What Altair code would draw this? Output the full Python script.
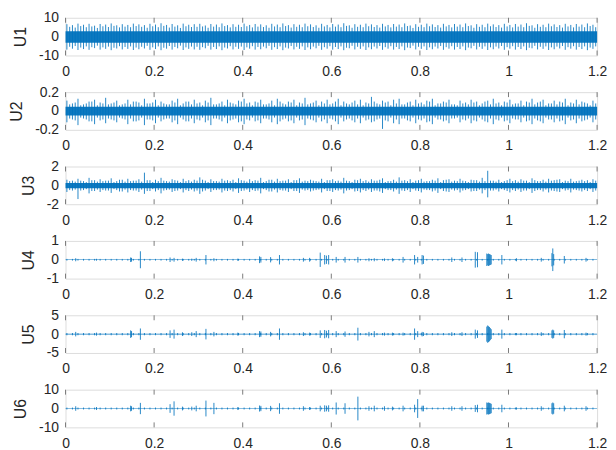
import altair as alt
import pandas as pd

BLUE = "#0072BD"
BOX = "#7a7a7a"
TXT = "#262626"
FONT = "Liberation Sans"

NAMES = ["U1", "U2", "U3", "U4", "U5", "U6"]
Y_DOMAINS = [[-10, 10], [-0.2, 0.2], [-2, 2], [-1, 1], [-5, 5], [-10, 10]]
X_TICKS = [0, 0.2, 0.4, 0.6, 0.8, 1.0, 1.2]

# dense core band (lo, hi) of each signal
CORE = [[-3.2, 2.8], [-0.047, 0.045], [-0.3, 0.25], [-0.012, 0.012], [-0.07, 0.07], [-0.15, 0.15]]

# main peaks of the oscillating signals U1-U3, one pair per cycle (96 cycles over 1.2 s)
U1_HI = [6.6, 6.1, 6.9, 6.3, 6.8, 5.8, 6.7, 6.4, 7.0, 6.0, 6.6, 6.2, 6.9, 6.5, 6.1, 6.8,
         6.4, 7.1, 6.2, 6.7, 6.0, 6.9, 6.3, 6.6, 6.8, 5.9, 6.7, 6.4, 7.0, 6.1, 6.6, 6.3,
         6.9, 6.2, 6.7, 6.5, 6.0, 6.8, 6.4, 7.0, 6.1, 6.6, 6.3, 6.9, 6.5, 6.0, 6.8, 6.2,
         6.7, 6.4, 7.1, 6.0, 6.6, 6.3, 6.9, 6.5, 6.1, 6.8, 6.2, 6.7, 6.4, 7.0, 5.9, 6.6,
         6.3, 6.9, 6.5, 6.1, 6.8, 6.2, 6.7, 6.4, 7.0, 6.0, 6.6, 6.3, 6.9, 6.5, 6.1, 6.8,
         6.2, 6.7, 6.4, 7.1, 6.0, 6.6, 6.3, 6.9, 6.5, 6.1, 6.8, 6.2, 6.7, 6.4, 7.0, 6.3]
U1_LO = [-6.9, -6.4, -7.1, -6.6, -7.0, -6.1, -6.9, -6.5, -7.2, -6.3, -6.8, -6.5, -7.1, -6.7, -6.3, -7.0,
         -6.6, -7.2, -6.4, -6.9, -6.2, -7.1, -6.5, -6.8, -7.0, -6.2, -6.9, -6.6, -7.2, -6.3, -6.8, -6.5,
         -7.1, -6.4, -6.9, -6.7, -6.2, -7.0, -6.6, -7.2, -6.3, -6.8, -6.5, -7.1, -6.7, -6.2, -7.0, -6.4,
         -6.9, -6.6, -7.2, -6.2, -6.8, -6.5, -7.1, -6.7, -6.3, -7.0, -6.4, -6.9, -6.6, -7.2, -6.1, -6.8,
         -6.5, -7.1, -6.7, -6.3, -7.0, -6.4, -6.9, -6.6, -7.2, -6.2, -6.8, -6.5, -7.1, -6.7, -6.3, -7.0,
         -6.4, -6.9, -6.6, -7.2, -6.2, -6.8, -6.5, -7.1, -6.7, -6.3, -7.0, -6.4, -6.9, -6.6, -7.2, -6.5]
# secondary peaks, half a cycle later
U1_HI2 = [5.2, 4.8, 5.6, 5.0, 5.4, 4.6, 5.5, 5.1, 5.7, 4.9, 5.3, 5.0, 5.6, 5.2, 4.7, 5.5,
          5.0, 5.7, 4.8, 5.3, 4.6, 5.5, 5.1, 5.2, 5.4, 4.7, 5.3, 5.0, 5.6, 4.9, 5.2, 5.1,
          5.5, 4.9, 5.3, 5.1, 4.7, 5.4, 5.0, 5.6, 4.8, 5.2, 5.0, 5.5, 5.1, 4.7, 5.4, 4.9,
          5.3, 5.0, 5.7, 4.7, 5.2, 5.0, 5.5, 5.1, 4.8, 5.4, 4.9, 5.3, 5.0, 5.6, 4.6, 5.2,
          5.0, 5.5, 5.1, 4.8, 5.4, 4.9, 5.3, 5.0, 5.6, 4.7, 5.2, 5.0, 5.5, 5.1, 4.8, 5.4,
          4.9, 5.3, 5.0, 5.7, 4.7, 5.2, 5.0, 5.5, 5.1, 4.8, 5.4, 4.9, 5.3, 5.0, 5.6, 5.0]
U1_LO2 = [-5.4, -5.0, -5.8, -5.2, -5.6, -4.8, -5.7, -5.3, -5.9, -5.1, -5.5, -5.2, -5.8, -5.4, -4.9, -5.7,
          -5.2, -5.9, -5.0, -5.5, -4.8, -5.7, -5.3, -5.4, -5.6, -4.9, -5.5, -5.2, -5.8, -5.1, -5.4, -5.3,
          -5.7, -5.1, -5.5, -5.3, -4.9, -5.6, -5.2, -5.8, -5.0, -5.4, -5.2, -5.7, -5.3, -4.9, -5.6, -5.1,
          -5.5, -5.2, -5.9, -4.9, -5.4, -5.2, -5.7, -5.3, -5.0, -5.6, -5.1, -5.5, -5.2, -5.8, -4.8, -5.4,
          -5.2, -5.7, -5.3, -5.0, -5.6, -5.1, -5.5, -5.2, -5.8, -4.9, -5.4, -5.2, -5.7, -5.3, -5.0, -5.6,
          -5.1, -5.5, -5.2, -5.9, -4.9, -5.4, -5.2, -5.7, -5.3, -5.0, -5.6, -5.1, -5.5, -5.2, -5.8, -5.2]
U2_HI = [0.11, 0.08, 0.13, 0.07, 0.10, 0.12, 0.09, 0.14, 0.08, 0.11, 0.07, 0.12, 0.10, 0.09, 0.13, 0.08,
         0.12, 0.10, 0.07, 0.11, 0.13, 0.08, 0.10, 0.12, 0.09, 0.11, 0.14, 0.07, 0.10, 0.12, 0.08, 0.11,
         0.13, 0.09, 0.10, 0.12, 0.07, 0.11, 0.13, 0.08, 0.10, 0.12, 0.09, 0.14, 0.08, 0.11, 0.10, 0.12,
         0.08, 0.13, 0.10, 0.07, 0.11, 0.12, 0.09, 0.15, 0.08, 0.11, 0.10, 0.12, 0.13, 0.07, 0.10, 0.12,
         0.09, 0.11, 0.13, 0.08, 0.10, 0.12, 0.07, 0.11, 0.09, 0.12, 0.10, 0.08, 0.11, 0.13, 0.09, 0.10,
         0.12, 0.08, 0.11, 0.10, 0.13, 0.09, 0.12, 0.08, 0.11, 0.10, 0.13, 0.09, 0.12, 0.10, 0.08, 0.11]
U2_LO = [-0.12, -0.09, -0.15, -0.08, -0.11, -0.14, -0.10, -0.13, -0.09, -0.12, -0.08, -0.14, -0.11, -0.10, -0.15, -0.09,
         -0.13, -0.11, -0.08, -0.12, -0.14, -0.09, -0.11, -0.13, -0.10, -0.12, -0.15, -0.08, -0.11, -0.13, -0.09, -0.12,
         -0.14, -0.10, -0.11, -0.13, -0.08, -0.12, -0.14, -0.09, -0.11, -0.13, -0.10, -0.15, -0.09, -0.12, -0.11, -0.13,
         -0.09, -0.14, -0.11, -0.08, -0.12, -0.13, -0.10, -0.12, -0.09, -0.19, -0.11, -0.13, -0.14, -0.08, -0.11, -0.13,
         -0.10, -0.12, -0.14, -0.09, -0.11, -0.13, -0.08, -0.12, -0.10, -0.13, -0.11, -0.09, -0.12, -0.14, -0.10, -0.11,
         -0.13, -0.09, -0.12, -0.11, -0.14, -0.10, -0.13, -0.09, -0.12, -0.11, -0.14, -0.10, -0.13, -0.11, -0.09, -0.12]
U2_HI2 = [0.07, 0.09, 0.06, 0.08, 0.10, 0.06, 0.08, 0.07, 0.09, 0.06, 0.08, 0.07, 0.10, 0.06, 0.08, 0.09,
          0.06, 0.08, 0.07, 0.09, 0.06, 0.10, 0.07, 0.08, 0.06, 0.09, 0.07, 0.08, 0.06, 0.09, 0.07, 0.10,
          0.08, 0.06, 0.09, 0.07, 0.08, 0.06, 0.10, 0.07, 0.09, 0.06, 0.08, 0.07, 0.09, 0.06, 0.08, 0.07,
          0.10, 0.06, 0.08, 0.09, 0.07, 0.06, 0.08, 0.10, 0.07, 0.09, 0.06, 0.08, 0.07, 0.09, 0.06, 0.08,
          0.07, 0.10, 0.06, 0.08, 0.09, 0.07, 0.06, 0.08, 0.07, 0.09, 0.06, 0.10, 0.07, 0.08, 0.06, 0.09,
          0.07, 0.08, 0.06, 0.09, 0.07, 0.10, 0.06, 0.08, 0.07, 0.09, 0.06, 0.08, 0.07, 0.09, 0.06, 0.08]
U2_LO2 = [-0.08, -0.10, -0.07, -0.09, -0.11, -0.07, -0.09, -0.08, -0.10, -0.07, -0.09, -0.08, -0.11, -0.07, -0.09, -0.10,
          -0.07, -0.09, -0.08, -0.10, -0.07, -0.11, -0.08, -0.09, -0.07, -0.10, -0.08, -0.09, -0.07, -0.10, -0.08, -0.11,
          -0.09, -0.07, -0.10, -0.08, -0.09, -0.07, -0.11, -0.08, -0.10, -0.07, -0.09, -0.08, -0.10, -0.07, -0.09, -0.08,
          -0.11, -0.07, -0.09, -0.10, -0.08, -0.07, -0.09, -0.11, -0.08, -0.10, -0.07, -0.09, -0.08, -0.10, -0.07, -0.09,
          -0.08, -0.11, -0.07, -0.09, -0.10, -0.08, -0.07, -0.09, -0.08, -0.10, -0.07, -0.11, -0.08, -0.09, -0.07, -0.10,
          -0.08, -0.09, -0.07, -0.10, -0.08, -0.11, -0.07, -0.09, -0.08, -0.10, -0.07, -0.09, -0.08, -0.10, -0.07, -0.09]
U3_HI = [0.6, 0.5, 0.7, 0.45, 0.8, 0.55, 0.65, 0.5, 0.75, 0.45, 0.6, 0.7, 0.5, 0.65, 1.35, 0.55,
         0.6, 0.8, 0.45, 0.65, 0.5, 0.7, 0.55, 0.6, 0.85, 0.5, 0.65, 0.45, 0.7, 0.55, 0.6, 0.75,
         0.5, 0.65, 0.55, 0.8, 0.45, 0.6, 0.7, 0.5, 0.65, 0.55, 0.75, 0.5, 0.6, 0.45, 0.7, 0.55,
         0.65, 0.5, 0.8, 0.45, 0.6, 0.7, 0.55, 0.65, 0.5, 0.75, 0.45, 0.6, 0.85, 0.55, 0.65, 0.5,
         0.7, 0.45, 0.6, 0.75, 0.55, 0.65, 0.5, 0.7, 0.45, 0.6, 0.55, 0.8, 1.55, 0.5, 0.6, 0.45,
         0.7, 0.55, 0.65, 0.5, 0.75, 0.45, 0.6, 0.7, 0.55, 0.65, 0.5, 0.7, 0.45, 0.6, 0.55, 0.65]
U3_LO = [-0.7, -0.55, -1.45, -0.5, -0.85, -0.6, -0.7, -0.55, -0.8, -0.5, -0.65, -0.75, -0.55, -0.7, -0.9, -0.6,
         -0.65, -0.85, -0.5, -0.7, -0.55, -0.75, -0.6, -0.65, -0.9, -0.55, -0.7, -0.5, -0.75, -0.6, -0.65, -0.8,
         -0.55, -0.7, -0.6, -0.85, -0.5, -0.65, -0.75, -0.55, -0.7, -0.6, -0.8, -0.55, -0.65, -0.5, -0.75, -0.6,
         -0.7, -0.55, -0.85, -0.5, -0.65, -0.75, -0.6, -0.7, -0.55, -0.8, -0.5, -0.65, -0.9, -0.6, -0.7, -0.55,
         -0.75, -0.5, -0.65, -0.8, -0.6, -0.7, -0.55, -0.75, -0.5, -0.65, -0.6, -0.85, -1.27, -0.55, -0.65, -0.5,
         -0.75, -0.6, -0.7, -0.55, -0.8, -0.5, -0.65, -0.75, -0.6, -0.7, -0.55, -0.75, -0.5, -0.65, -0.6, -0.7]
U3_HI2 = [0.45, 0.4, 0.5, 0.35, 0.55, 0.4, 0.45, 0.5, 0.35, 0.6, 0.4, 0.45, 0.5, 0.4, 0.55, 0.35,
          0.45, 0.5, 0.4, 0.55, 0.35, 0.45, 0.4, 0.5, 0.6, 0.35, 0.45, 0.4, 0.5, 0.45, 0.35, 0.55,
          0.4, 0.45, 0.5, 0.35, 0.6, 0.4, 0.45, 0.5, 0.35, 0.55, 0.4, 0.45, 0.5, 0.4, 0.35, 0.55,
          0.45, 0.4, 0.5, 0.35, 0.55, 0.45, 0.4, 0.5, 0.6, 0.35, 0.45, 0.4, 0.5, 0.45, 0.35, 0.55,
          0.4, 0.45, 0.5, 0.35, 0.6, 0.4, 0.45, 0.5, 0.35, 0.55, 0.4, 0.45, 0.5, 0.4, 0.35, 0.55,
          0.45, 0.4, 0.5, 0.35, 0.55, 0.45, 0.4, 0.5, 0.6, 0.35, 0.45, 0.4, 0.5, 0.45, 0.35, 0.5]
U3_LO2 = [-0.5, -0.45, -0.55, -0.4, -0.6, -0.45, -0.5, -0.55, -0.4, -0.65, -0.45, -0.5, -0.55, -0.45, -0.6, -0.4,
          -0.5, -0.55, -0.45, -0.6, -0.4, -0.5, -0.45, -0.55, -0.65, -0.4, -0.5, -0.45, -0.55, -0.5, -0.4, -0.6,
          -0.45, -0.5, -0.55, -0.4, -0.65, -0.45, -0.5, -0.55, -0.4, -0.6, -0.45, -0.5, -0.55, -0.45, -0.4, -0.6,
          -0.5, -0.45, -0.55, -0.4, -0.6, -0.5, -0.45, -0.55, -0.65, -0.4, -0.5, -0.45, -0.55, -0.5, -0.4, -0.6,
          -0.45, -0.5, -0.55, -0.4, -0.65, -0.45, -0.5, -0.55, -0.4, -0.6, -0.45, -0.5, -0.55, -0.45, -0.4, -0.6,
          -0.5, -0.45, -0.55, -0.4, -0.6, -0.5, -0.45, -0.55, -0.65, -0.4, -0.5, -0.45, -0.55, -0.5, -0.4, -0.55]

# impulsive events in U4-U6 (time, symmetric amplitude)
EVENT_T = [0.023, 0.070, 0.147, 0.149, 0.169, 0.236, 0.245, 0.264, 0.285, 0.295, 0.317, 0.335, 0.389,
           0.438, 0.441, 0.463, 0.483, 0.537, 0.551, 0.575, 0.585, 0.589, 0.594, 0.611, 0.631, 0.660,
           0.685, 0.697, 0.720, 0.738, 0.762, 0.788, 0.795, 0.805, 0.808, 0.872, 0.895, 0.925, 0.930,
           0.951, 0.953, 0.955, 0.957, 0.959, 0.961, 0.985, 1.018, 1.074, 1.098, 1.100, 1.102, 1.126, 1.175]
U4_EV = [0.08, 0.05, 0.12, 0.10, 0.45, 0.12, 0.10, 0.06, 0.06, 0.10, 0.25, 0.08, 0.06,
         0.18, 0.15, 0.14, 0.25, 0.10, 0.10, 0.38, 0.25, 0.22, 0.25, 0.15, 0.15, 0.15,
         0.08, 0.08, 0.07, 0.08, 0.15, 0.25, 0.15, 0.25, 0.22, 0.12, 0.12, 0.42, 0.40,
         0.33, 0.30, 0.33, 0.30, 0.28, 0.25, 0.25, 0.08, 0.10, 0.35, 0.60, 0.30, 0.20, 0.10]
U5_EV = [0.6, 0.4, 1.0, 0.8, 1.5, 1.0, 1.2, 0.5, 0.5, 0.8, 1.4, 0.6, 0.4,
         0.8, 0.7, 0.6, 1.5, 0.5, 0.4, 1.0, 1.1, 0.9, 1.1, 0.8, 0.7, 1.7,
         0.6, 0.8, 0.4, 0.4, 0.4, 1.5, 0.8, 0.6, 0.5, 0.5, 0.5, 1.2, 1.0,
         2.0, 2.3, 2.1, 1.9, 1.6, 1.3, 1.2, 0.3, 0.5, 1.0, 1.2, 1.0, 1.1, 0.4]
U6_EV = [1.2, 0.8, 1.5, 1.2, 3.0, 2.3, 3.8, 1.0, 1.0, 1.5, 4.2, 3.0, 0.8,
         1.6, 1.4, 1.4, 2.8, 1.2, 0.8, 1.5, 1.7, 1.5, 1.7, 3.2, 2.8, 6.3,
         1.2, 1.5, 1.2, 1.0, 1.5, 2.0, 5.0, 1.5, 1.5, 1.2, 1.2, 1.8, 2.0,
         3.2, 3.0, 3.2, 3.0, 2.8, 2.5, 2.0, 0.6, 1.2, 2.8, 3.2, 2.8, 1.5, 1.2]
# small regular ripple on the quiet baselines of U4-U6
BASE_AMP = [0.045, 0.3, 0.5]

N_CYCLES = 96
CYCLE = 1.2 / N_CYCLES
cycle_t = [CYCLE * i + CYCLE / 4 for i in range(N_CYCLES)]
cycle_t2 = [CYCLE * i + 3 * CYCLE / 4 for i in range(N_CYCLES)]

W, H = 536, 38
MAIN = [(U1_HI, U1_LO, U1_HI2, U1_LO2), (U2_HI, U2_LO, U2_HI2, U2_LO2), (U3_HI, U3_LO, U3_HI2, U3_LO2)]


def spikes_for(k):
    if k < 3:
        hi, lo, hi2, lo2 = MAIN[k]
        a = pd.DataFrame({"t": cycle_t, "hi": hi, "lo": lo})
        b = pd.DataFrame({"t": cycle_t2, "hi": hi2, "lo": lo2})
        return pd.concat([a, b], ignore_index=True)
    ev = [U4_EV, U5_EV, U6_EV][k - 3]
    b = BASE_AMP[k - 3]
    base = pd.DataFrame({"t": cycle_t, "hi": [b] * N_CYCLES, "lo": [-b] * N_CYCLES})
    evd = pd.DataFrame({"t": EVENT_T, "hi": ev, "lo": [-a for a in ev]})
    return pd.concat([base, evd], ignore_index=True)


def panel(k):
    xenc = alt.X("t:Q", scale=alt.Scale(domain=[0, 1.2], nice=False, zero=False),
                 axis=alt.Axis(values=X_TICKS, title=None, ticks=False, domain=False, grid=False,
                               labelPadding=9, labelFlush=False, labelOverlap=False, format="~r",
                               labelFont=FONT, labelFontSize=14, labelColor=TXT))
    yenc = alt.Y("hi:Q", scale=alt.Scale(domain=Y_DOMAINS[k], nice=False, zero=False),
                 axis=alt.Axis(tickCount=2, title=NAMES[k], ticks=False, domain=False, grid=False,
                               labelPadding=7, titlePadding=10, labelFlush=False, labelOverlap=False,
                               labelBound=False, format="~r",
                               labelFont=FONT, labelFontSize=14, labelColor=TXT,
                               titleFont=FONT, titleFontSize=16, titleFontWeight="normal",
                               titleColor=TXT))
    lo, hi = CORE[k]
    core_df = pd.DataFrame({"t": [0.0, 1.2], "hi": [hi, hi], "lo": [lo, lo]})
    core = alt.Chart(core_df).mark_area(color=BLUE, opacity=0.95).encode(x=xenc, y=yenc, y2="lo:Q")
    spikes = alt.Chart(spikes_for(k)).mark_rule(color=BLUE, strokeWidth=1, opacity=0.85, clip=True).encode(
        x=alt.X("t:Q"), y=alt.Y("hi:Q"), y2="lo:Q")
    tick_df = pd.DataFrame({"t": X_TICKS})
    ttop = alt.Chart(tick_df).mark_rule(color=BOX, strokeWidth=1).encode(
        x=alt.X("t:Q"), y=alt.value(0), y2=alt.value(5))
    tbot = alt.Chart(tick_df).mark_rule(color=BOX, strokeWidth=1).encode(
        x=alt.X("t:Q"), y=alt.value(H - 5), y2=alt.value(H))
    return alt.layer(core, spikes, ttop, tbot).properties(width=W, height=H)


chart = alt.vconcat(*[panel(k) for k in range(6)], spacing=5).properties(
    padding={"left": 0, "top": 0, "right": 0, "bottom": 0}
).configure_view(stroke=BOX, strokeWidth=1).configure(
    locale={"number": {"decimal": ".", "thousands": ",", "grouping": [3],
                       "currency": ["$", ""], "minus": "-"}}
)

chart.save("out.html", embed_options={"renderer": "svg", "actions": False})
